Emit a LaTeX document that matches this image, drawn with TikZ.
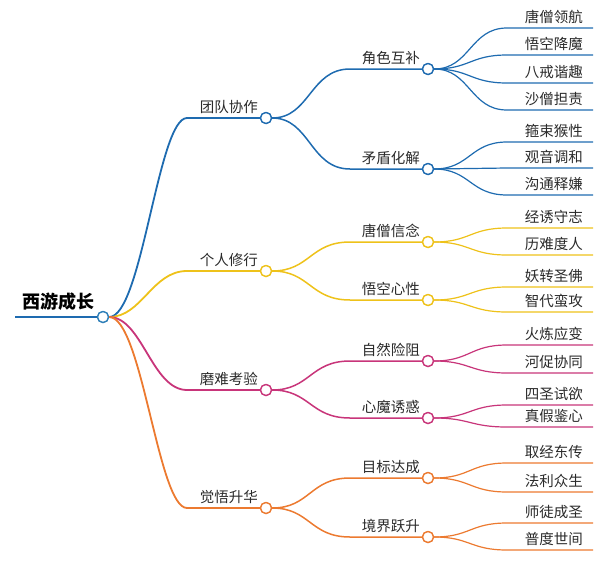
\documentclass[tikz,border=0pt]{standalone}
\usepackage{fontspec}
\newfontfamily\cjk{Noto Sans CJK SC}
\definecolor{cB}{HTML}{1E6BB0}
\definecolor{cY}{HTML}{EEC21A}
\definecolor{cM}{HTML}{C8357A}
\definecolor{cO}{HTML}{EC7A30}
\definecolor{cR}{HTML}{2E7FB8}
\definecolor{txt}{HTML}{2A2A2A}
\tikzset{
  dot/.style={circle, draw, fill=white, line width=1.3pt, minimum size=11pt, inner sep=0pt},
  lbl/.style={font=\cjk\fontsize{14.5}{14.5}\selectfont, text=txt, inner sep=0pt, anchor=east},
  rootlbl/.style={font=\cjk\bfseries\fontsize{18}{18}\selectfont, text=black, inner sep=0pt},
  e0/.style={line width=2.2pt},
  e1/.style={line width=1.8pt},
  e2/.style={line width=1.5pt},
  e3/.style={line width=1.2pt}
}
\begin{document}
\begin{tikzpicture}[x=1pt,y=-1pt]
\useasboundingbox (0,0) rectangle (600,568);
% root
\coordinate (r0) at (15,317);
\node[rootlbl] (rt) at (58,302) {西游成长};
% level 1 circles
\node[dot, draw=cB] (A) at (266,118) {};
\node[dot, draw=cY] (B) at (266,271) {};
\node[dot, draw=cM] (C) at (266,390) {};
\node[dot, draw=cO] (D) at (266,508) {};
\node[lbl] (At) at (258,107) {团队协作};
\node[lbl] (Bt) at (258,260) {个人修行};
\node[lbl] (Ct) at (258,379) {磨难考验};
\node[lbl] (Dt) at (258,497) {觉悟升华};
% level 2 circles
\node[dot, draw=cB] (A1) at (428,69) {};
\node[dot, draw=cB] (A2) at (428,169) {};
\node[dot, draw=cY] (B1) at (428,242) {};
\node[dot, draw=cY] (B2) at (428,300) {};
\node[dot, draw=cM] (C1) at (428,361) {};
\node[dot, draw=cM] (C2) at (428,418) {};
\node[dot, draw=cO] (D1) at (428,478) {};
\node[dot, draw=cO] (D2) at (428,537) {};
\node[lbl] (A1t) at (420,58) {角色互补};
\node[lbl] (A2t) at (420,158) {矛盾化解};
\node[lbl] (B1t) at (420,231) {唐僧信念};
\node[lbl] (B2t) at (420,289) {悟空心性};
\node[lbl] (C1t) at (420,350) {自然险阻};
\node[lbl] (C2t) at (420,407) {心魔诱惑};
\node[lbl] (D1t) at (420,467) {目标达成};
\node[lbl] (D2t) at (420,526) {境界跃升};
% bend coordinates level 1
\coordinate (Ab) at (187,118);
\coordinate (Bb) at (187,271);
\coordinate (Cb) at (187,390);
\coordinate (Db) at (187,508);
% root edges
\node[dot, draw=cR] (R) at (103,317) {};
\draw[e1, cB] (R.east) .. controls (142,317) and (158,118) .. (Ab) -- (A.west);
\draw[e1, cY] (R.east) .. controls (142,317) and (152,271) .. (Bb) -- (B.west);
\draw[e1, cM] (R.east) .. controls (142,317) and (152,390) .. (Cb) -- (C.west);
\draw[e1, cO] (R.east) .. controls (142,317) and (158,508) .. (Db) -- (D.west);
\draw[e0, cB] (r0) -- (R.west);
\node[dot, draw=cR] at (R) {};
% level 2 edges
\foreach \p/\q/\yp/\yq/\c in {A/A1/118/69/cB, A/A2/118/169/cB, B/B1/271/242/cY, B/B2/271/300/cY,
  C/C1/390/361/cM, C/C2/390/418/cM, D/D1/508/478/cO, D/D2/508/537/cO}{
  \coordinate (\q b) at (350,\yq);
  \draw[e2, \c] (\p.east) .. controls (310,\yp) and (310,\yq) .. (\q b) -- (\q.west);
}
\node[dot, draw=cB] at (A) {};
\node[dot, draw=cY] at (B) {};
\node[dot, draw=cM] at (C) {};
\node[dot, draw=cO] at (D) {};
% leaves
\newcommand\leafgroup[4]{%
  \foreach \y/\t [count=\i] in {#4}{%
    \coordinate (#1-\i) at (593,\y);
    \coordinate (#1-\i b) at (507,\y);
    \node[lbl] (#1-\i t) at (583,\y-11) {\t};
    \draw[e3, #2] (#1.east) .. controls (470,#3) and (470,\y) .. (#1-\i b) -- (#1-\i);
  }%
  \node[dot, draw=#2] at (#1) {};
}
\leafgroup{A1}{cB}{69}{28/唐僧领航,55/悟空降魔,83/八戒谐趣,110/沙僧担责}
\leafgroup{A2}{cB}{169}{142/箍束猴性,168/观音调和,195/沟通释嫌}
\leafgroup{B1}{cY}{242}{228/经诱守志,255/历难度人}
\leafgroup{B2}{cY}{300}{287/妖转圣佛,312/智代蛮攻}
\leafgroup{C1}{cM}{361}{345/火炼应变,373/河促协同}
\leafgroup{C2}{cM}{418}{405/四圣试欲,427/真假鉴心}
\leafgroup{D1}{cO}{478}{463/取经东传,492/法利众生}
\leafgroup{D2}{cO}{537}{523/师徒成圣,550/普度世间}
\end{tikzpicture}
\end{document}
